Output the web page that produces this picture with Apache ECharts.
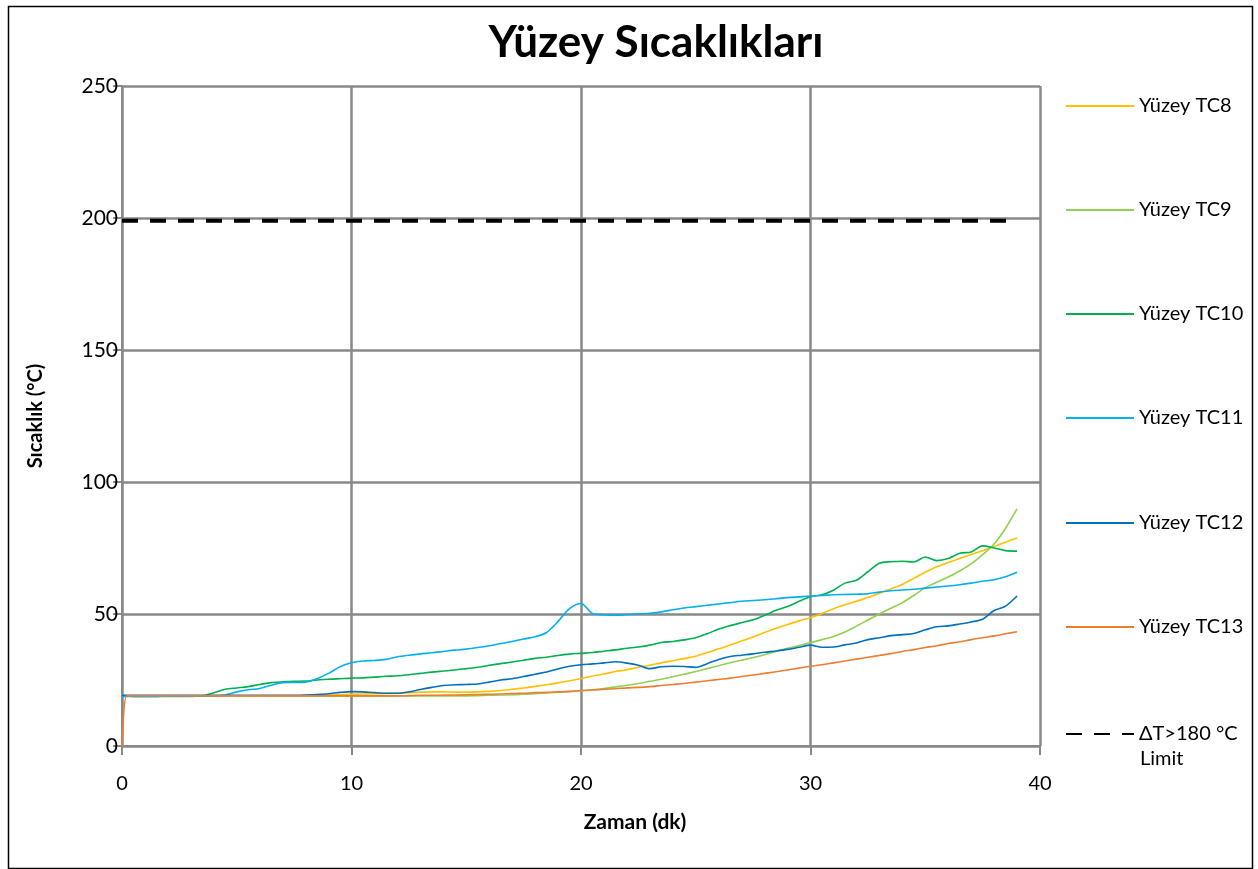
<!DOCTYPE html>
<html>
<head>
<meta charset="utf-8">
<script src="https://cdn.jsdelivr.net/npm/echarts@6/dist/echarts.min.js"></script>
<style>
html,body{margin:0;padding:0;background:#fff;}
#chart{width:1258px;height:869px;}
</style>
</head>
<body>
<div id="chart"></div>
<script>
// Time (minutes)
const times = [0, 0.2,
  0.5, 1, 1.5, 2, 2.5, 3, 3.5, 4,
  4.5, 5, 5.5, 6, 6.5, 7, 7.5, 8,
  8.5, 9, 9.5, 10, 10.5, 11, 11.5, 12,
  12.5, 13, 13.5, 14, 14.5, 15, 15.5, 16,
  16.5, 17, 17.5, 18, 18.5, 19, 19.5, 20,
  20.5, 21, 21.5, 22, 22.5, 23, 23.5, 24,
  24.5, 25, 25.5, 26, 26.5, 27, 27.5, 28,
  28.5, 29, 29.5, 30, 30.5, 31, 31.5, 32,
  32.5, 33, 33.5, 34, 34.5, 35, 35.5, 36,
  36.5, 37, 37.5, 38, 38.5, 39];

const tc8 = [19, 19,
  19, 19, 19, 19, 19, 19, 19, 19,
  19, 19, 19, 19, 19, 19, 19, 19.1,
  19.2, 19.3, 19.5, 19.6, 19.7, 19.8, 19.9, 20,
  20.2, 20.4, 20.5, 20.5, 20.4, 20.4, 20.5, 20.7,
  21, 21.5, 22, 22.6, 23.2, 23.9, 24.7, 25.6,
  26.5, 27.3, 28.2, 28.9, 29.8, 30.6, 31.5, 32.3,
  33.1, 34, 35.4, 36.8, 38.3, 39.8, 41.3, 43,
  44.6, 46, 47.4, 48.6, 50.2, 52, 53.5, 54.8,
  56.3, 57.8, 59.5, 61.2, 63.5, 65.8, 67.9, 69.5,
  71, 72.5, 74, 75.6, 77.2, 78.8];

const tc9 = [19, 19,
  19, 19, 19, 19, 19, 19, 19, 19,
  19, 19, 19, 19, 19, 19, 19, 19,
  19, 19, 19, 19, 19, 19, 19, 19,
  19, 19, 19, 19, 19, 19, 19.1, 19.2,
  19.3, 19.4, 19.6, 19.8, 20.1, 20.4, 20.6, 20.9,
  21.3, 21.8, 22.4, 23, 23.7, 24.5, 25.3, 26.2,
  27.2, 28.2, 29.3, 30.4, 31.5, 32.5, 33.5, 34.6,
  35.8, 37, 38.1, 39.1, 40.3, 41.5, 43.2, 45.4,
  47.7, 50, 52.2, 54.3, 57, 60, 62, 64,
  66.3, 69, 72.5, 76.5, 82.5, 89.8];

const tc10 = [19, 19,
  19, 19, 19, 19, 19, 19, 19, 20.2,
  21.5, 22, 22.5, 23.3, 24, 24.3, 24.5, 24.6,
  25, 25.3, 25.5, 25.7, 25.8, 26.1, 26.4, 26.6,
  27, 27.5, 28, 28.4, 28.8, 29.3, 29.8, 30.6,
  31.2, 31.8, 32.5, 33.2, 33.6, 34.3, 34.8, 35.1,
  35.4, 35.9, 36.4, 37, 37.5, 38.2, 39.2, 39.6,
  40.2, 41, 42.5, 44.3, 45.6, 46.7, 47.8, 49.5,
  51.4, 52.8, 54.8, 56.5, 57.3, 59, 61.7, 62.8,
  66, 69.2, 69.8, 70, 69.7, 71.6, 70.2, 71,
  73, 73.5, 75.8, 75, 74, 73.8];

const tc11 = [18.8, 18.8,
  18.7, 18.7, 18.7, 18.8, 18.8, 18.8, 18.9, 18.9,
  19.3, 20.5, 21.3, 21.8, 23, 24, 24.1, 24.2,
  25.5, 27.5, 30, 31.5, 32.2, 32.4, 32.8, 33.8,
  34.4, 34.9, 35.3, 35.8, 36.3, 36.7, 37.3, 38,
  38.8, 39.6, 40.5, 41.4, 43, 47.2, 52, 54,
  50.2, 49.7, 49.5, 49.8, 50, 50.3, 50.8, 51.6,
  52.3, 52.8, 53.3, 53.8, 54.3, 54.8, 55.1, 55.4,
  55.8, 56.2, 56.5, 56.8, 57, 57.3, 57.4, 57.5,
  57.7, 58.3, 58.8, 59.1, 59.4, 59.8, 60.2, 60.6,
  61.1, 61.7, 62.4, 63, 64.1, 65.8];

const tc12 = [19.2, 19.2,
  19.2, 19.2, 19.2, 19.2, 19.2, 19.2, 19.2, 19.2,
  19.2, 19.2, 19.2, 19.2, 19.2, 19.2, 19.2, 19.3,
  19.5, 19.8, 20.3, 20.6, 20.5, 20.2, 20, 20,
  20.5, 21.4, 22.2, 22.9, 23.2, 23.3, 23.5, 24.2,
  25, 25.5, 26.3, 27.2, 28, 29.2, 30.2, 30.8,
  31.1, 31.5, 31.9, 31.4, 30.6, 29.3, 30, 30.2,
  30.1, 29.8, 31.2, 32.8, 33.9, 34.4, 34.9, 35.5,
  36, 36.6, 37.4, 38.2, 37.4, 37.5, 38.3, 39,
  40.3, 41, 41.8, 42.2, 42.6, 44, 45.2, 45.5,
  46.2, 47, 48, 51.3, 53, 56.8];

const tc13 = [0, 19,
  19, 19, 19, 19, 19, 19, 19, 19,
  19, 19, 19, 19, 19, 19, 19, 19,
  19, 19, 19, 19, 19, 19, 19, 19,
  19.1, 19.2, 19.2, 19.3, 19.3, 19.4, 19.5, 19.6,
  19.7, 19.9, 20, 20.2, 20.3, 20.5, 20.7, 21,
  21.2, 21.5, 21.7, 22, 22.2, 22.5, 22.9, 23.3,
  23.7, 24.2, 24.7, 25.2, 25.7, 26.3, 26.9, 27.5,
  28.1, 28.8, 29.5, 30.2, 30.8, 31.5, 32.2, 32.9,
  33.6, 34.3, 35, 35.8, 36.5, 37.3, 38, 38.8,
  39.5, 40.3, 41, 41.7, 42.5, 43.3];

const limitTimes = [0, 39];
const limitValues = [199, 199];

const seriesNames = ['Yüzey TC8', 'Yüzey TC9', 'Yüzey TC10', 'Yüzey TC11', 'Yüzey TC12', 'Yüzey TC13'];
const seriesValues = [tc8, tc9, tc10, tc11, tc12, tc13];
const seriesColors = ['#FFC000', '#92D050', '#00B050', '#00B0F0', '#0070C0', '#ED7D31'];
const limitName = 'ΔT>180 °C Limit';

const FONT = 'Lato, "Open Sans", sans-serif';
const GRID = '#898989';

const series = seriesNames.map((n, i) => ({
  name: n,
  type: 'line',
  symbol: 'none',
  smooth: 0.3,
  data: times.map((t, j) => [t, seriesValues[i][j]]),
  lineStyle: { color: seriesColors[i], width: 1.6 },
  itemStyle: { color: seriesColors[i] },
  z: 3 + i
}));
series.unshift({
  name: limitName,
  type: 'line',
  symbol: 'none',
  data: limitTimes.map((t, j) => [t, limitValues[j]]),
  lineStyle: { color: '#000', width: 4, type: [16, 12] },
  itemStyle: { color: '#000' },
  z: 2
});

const legendNames = seriesNames.concat([limitName]);
const legendCenters = [106, 210, 314, 418, 523, 627, 734];
const legends = legendNames.map((n, i) => ({
  data: [n],
  orient: 'vertical',
  left: 1065,
  top: legendCenters[i] - 12,
  padding: 0,
  itemWidth: 68,
  itemHeight: 14,
  itemGap: 0,
  itemStyle: { opacity: 0, borderWidth: 0 },
  textStyle: { fontFamily: FONT, fontSize: 20, color: '#000', lineHeight: 24 },
  formatter: (name) => name === limitName ? 'ΔT>180 °C' : name,
  selectedMode: false
}));

const chart = echarts.init(document.getElementById('chart'), null, { renderer: 'canvas' });
chart.setOption({
  backgroundColor: '#fff',
  animation: false,
  title: {
    text: 'Yüzey Sıcaklıkları',
    left: 651,
    textAlign: 'center',
    top: 16,
    textStyle: { fontFamily: FONT, fontSize: 44, fontWeight: 'bold', color: '#000' }
  },
  grid: { left: 122, top: 86, width: 918, height: 660, containLabel: false },
  legend: legends,
  xAxis: {
    type: 'value', min: 0, max: 40, interval: 10,
    name: 'Zaman (dk)', nameLocation: 'middle', nameGap: 66,
    nameTextStyle: { fontFamily: FONT, fontSize: 21, fontWeight: 'bold', color: '#000', padding: [0, 0, 0, 108] },
    axisLine: { show: true, lineStyle: { color: GRID, width: 2 } },
    axisTick: { show: true, length: 9, lineStyle: { color: GRID, width: 2 } },
    axisLabel: { fontFamily: FONT, fontSize: 20, color: '#000', margin: 28 },
    splitLine: { show: true, lineStyle: { color: GRID, width: 2.5 } }
  },
  yAxis: {
    type: 'value', min: 0, max: 250, interval: 50,
    name: 'Sıcaklık (°C)', nameLocation: 'middle', nameGap: 76, nameRotate: 90,
    nameTextStyle: { fontFamily: FONT, fontSize: 20, fontWeight: 'bold', color: '#000' },
    axisLine: { show: true, lineStyle: { color: GRID, width: 2 } },
    axisTick: { show: true, length: 9, lineStyle: { color: GRID, width: 2 } },
    axisLabel: { fontFamily: FONT, fontSize: 21, color: '#000', margin: 4 },
    splitLine: { show: true, lineStyle: { color: GRID, width: 2.5 } }
  },
  graphic: [
    { type: 'rect', left: 6, top: 4, shape: { width: 1244, height: 862 },
      style: { fill: 'none', stroke: '#000', lineWidth: 1.5 }, z: 100, silent: true },
    { type: 'text', left: 1140, top: 749,
      style: { text: 'Limit', fontFamily: FONT, fontSize: 20, fill: '#000' } }
  ],
  series: series
});
</script>
</body>
</html>
